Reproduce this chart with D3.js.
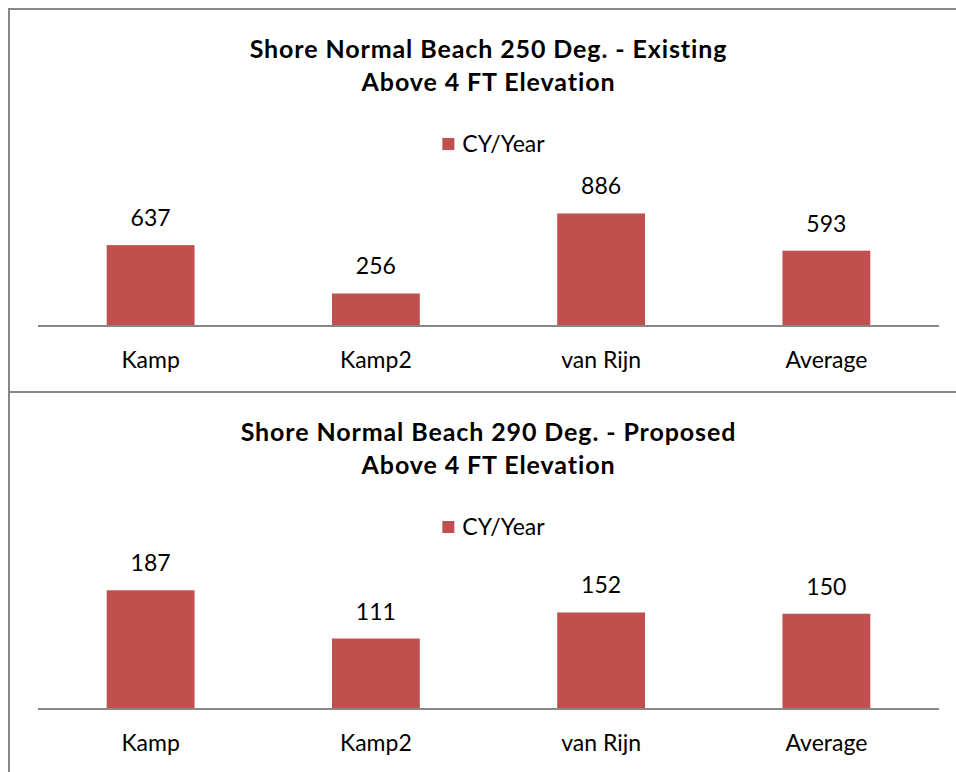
<!DOCTYPE html>
<html>
<head>
<meta charset="utf-8">
<script src="https://cdn.jsdelivr.net/npm/d3@7"></script>
<style>
  html, body { margin: 0; padding: 0; background: #fff; }
  svg { display: block; font-family: Lato, "Open Sans", sans-serif; }
</style>
</head>
<body>
<svg id="chart" width="956" height="772"></svg>
<script>
// Sediment transport estimates, cubic yards per year
const categories = ["Kamp", "Kamp2", "van Rijn", "Average"];
const existingValues = [637, 256, 886, 593];
const proposedValues = [187, 111, 152, 150];
const seriesName = "CY/Year";
const titles = [
  ["Shore Normal Beach 250 Deg. - Existing", "Above 4 FT Elevation"],
  ["Shore Normal Beach 290 Deg. - Proposed", "Above 4 FT Elevation"]
];
const axisMax = [1000, 200];

const panels = [
  { values: existingValues, title: titles[0], max: axisMax[0] },
  { values: proposedValues, title: titles[1], max: axisMax[1] }
];

const svg = d3.select("#chart");
const barColor = "#C0504D";
const lineColor = "#878787";

const panelTop = 9, panelHeight = 383;
const plotLeft = 38, plotRight = 939;
const axisY = 317;          // baseline, relative to panel top
const plotHeight = 127;
const cx = (plotLeft + plotRight) / 2;

const x = d3.scaleBand().domain(categories).range([plotLeft, plotRight]).paddingInner(0.61).paddingOuter(0.305);

panels.forEach((p, i) => {
  const g = svg.append("g").attr("transform", `translate(0,${panelTop + i * panelHeight})`);

  // panel frame
  g.append("rect")
    .attr("x", 9).attr("y", 0)
    .attr("width", 980).attr("height", panelHeight)
    .attr("fill", "none").attr("stroke", lineColor).attr("stroke-width", 2);

  // title
  const t = g.append("text")
    .attr("text-anchor", "middle")
    .attr("font-weight", "bold").attr("font-size", 25)
    .attr("letter-spacing", 0.9).attr("fill", "#000");
  p.title.forEach((line, k) => {
    t.append("tspan").attr("x", cx).attr("y", 49 + k * 33).text(line);
  });

  // legend
  const lg = g.append("g");
  lg.append("rect").attr("x", 0).attr("y", -6).attr("width", 12).attr("height", 12).attr("fill", barColor);
  const lt = lg.append("text").attr("x", 20).attr("y", 0).attr("dy", "0.35em")
    .attr("font-size", 23).attr("fill", "#000").text(seriesName);
  const lw = 20 + lt.node().getComputedTextLength();
  lg.attr("transform", `translate(${cx + 5 - lw / 2},${135})`);

  const y = d3.scaleLinear().domain([0, p.max]).range([axisY, axisY - plotHeight]);

  // bars
  g.selectAll("rect.bar").data(p.values).join("rect")
    .attr("class", "bar")
    .attr("x", (d, j) => x(categories[j]))
    .attr("width", x.bandwidth())
    .attr("y", d => y(d))
    .attr("height", d => y(0) - y(d))
    .attr("fill", barColor);

  // value labels
  g.selectAll("text.val").data(p.values).join("text")
    .attr("class", "val")
    .attr("x", (d, j) => x(categories[j]) + x.bandwidth() / 2)
    .attr("y", d => y(d) - 19)
    .attr("text-anchor", "middle").attr("font-size", 23).attr("fill", "#000")
    .text(d => d);

  // category axis
  const axis = d3.axisBottom(x).tickSize(0).tickPadding(0);
  const ag = g.append("g").attr("transform", `translate(0,${axisY})`).call(axis);
  ag.select(".domain").attr("stroke", lineColor).attr("stroke-width", 2)
    .attr("d", `M${plotLeft},0H${plotRight}`);
  ag.selectAll(".tick text")
    .attr("y", 42).attr("dy", 0)
    .attr("font-family", "Lato, 'Open Sans', sans-serif")
    .attr("font-size", 23).attr("fill", "#000");
});
</script>
</body>
</html>
